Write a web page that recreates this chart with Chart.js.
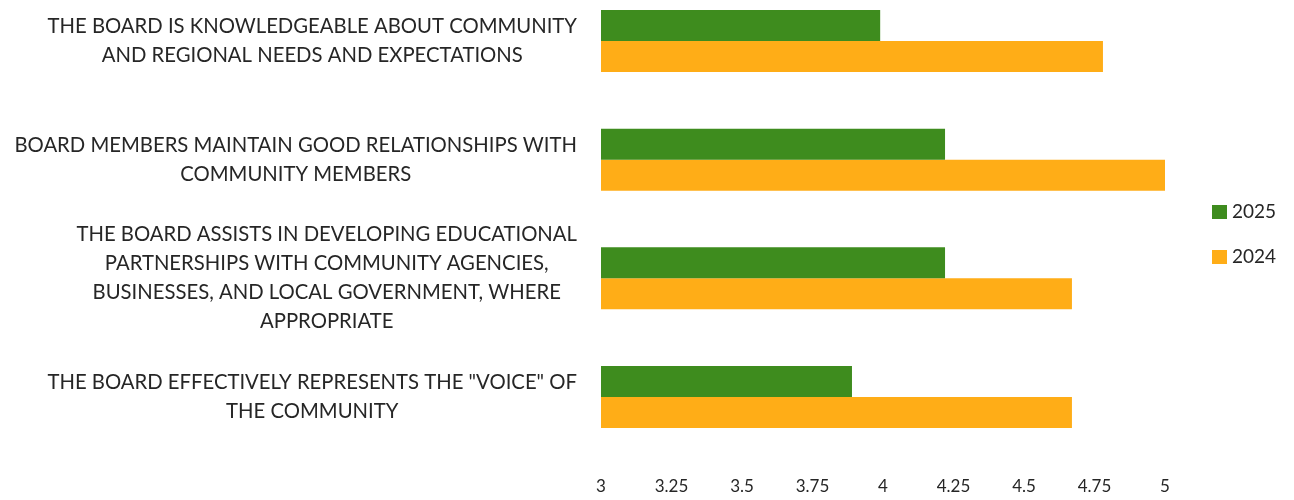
<!DOCTYPE html>
<html>
<head>
<meta charset="utf-8">
<script src="https://cdn.jsdelivr.net/npm/chart.js@4.4.0/dist/chart.umd.min.js"></script>
<style>
  html, body { margin: 0; padding: 0; background: #fff; }
  #wrap { width: 1294px; height: 500px; }
</style>
</head>
<body>
<div id="wrap"><canvas id="chart" width="1294" height="500"></canvas></div>
<script>
// category labels, one array of lines per question
const categories = [
    ['THE BOARD IS KNOWLEDGEABLE ABOUT COMMUNITY', 'AND REGIONAL NEEDS AND EXPECTATIONS'],
    ['BOARD MEMBERS MAINTAIN GOOD RELATIONSHIPS WITH', 'COMMUNITY MEMBERS'],
    ['THE BOARD ASSISTS IN DEVELOPING EDUCATIONAL', 'PARTNERSHIPS WITH COMMUNITY AGENCIES,', 'BUSINESSES, AND LOCAL GOVERNMENT, WHERE', 'APPROPRIATE'],
    ['THE BOARD EFFECTIVELY REPRESENTS THE "VOICE" OF', 'THE COMMUNITY']
];
const seriesNames = ['2025', '2024'];
const values2025 = [3.99, 4.22, 4.22, 3.89];
const values2024 = [4.78, 5.0, 4.67, 4.67];
const xTicks = ['3', '3.25', '3.5', '3.75', '4', '4.25', '4.5', '4.75', '5'];

const GREEN = '#3e8c1e';
const ORANGE = '#ffad17';
const TEXT = '#262626';

// multi-line labels, right-aligned as a block, each line centred inside it
const categoryLabels = {
    id: 'categoryLabels',
    afterDraw(chart) {
        const { ctx, chartArea, scales: { y } } = chart;
        ctx.save();
        ctx.font = '20.3px Lato';
        ctx.fillStyle = TEXT;
        ctx.textAlign = 'center';
        ctx.textBaseline = 'middle';
        const right = chartArea.left - 24;
        const lineH = 29;
        categories.forEach((lines, i) => {
            const yc = y.getPixelForValue(i);
            const w = Math.max(...lines.map(l => ctx.measureText(l).width));
            const cx = right - w / 2;
            lines.forEach((l, k) => {
                ctx.fillText(l, cx, yc + (k - (lines.length - 1) / 2) * lineH);
            });
        });
        ctx.restore();
    }
};

// legend on the right, stacked
const sideLegend = {
    id: 'sideLegend',
    afterDraw(chart) {
        const { ctx, chartArea } = chart;
        ctx.save();
        ctx.font = '19px Lato';
        ctx.textBaseline = 'middle';
        ctx.textAlign = 'left';
        const x = chartArea.right + 47;
        let yy = chartArea.top + 171;
        chart.data.datasets.forEach(ds => {
            ctx.fillStyle = ds.backgroundColor;
            ctx.fillRect(x, yy - 7, 15, 14);
            ctx.fillStyle = TEXT;
            ctx.fillText(ds.label, x + 20, yy);
            yy += 45;
        });
        ctx.restore();
    }
};

new Chart(document.getElementById('chart'), {
    type: 'bar',
    data: {
        labels: categories,
        datasets: [
            { label: seriesNames[0], data: values2025, backgroundColor: GREEN, base: 3, clip: false },
            { label: seriesNames[1], data: values2024, backgroundColor: ORANGE, base: 3, clip: false }
        ]
    },
    options: {
        indexAxis: 'y',
        responsive: false,
        animation: false,
        categoryPercentage: 0.522,
        barPercentage: 1,
        layout: { padding: { top: 41, left: 601, right: 129, bottom: 4 } },
        plugins: {
            legend: { display: false },
            tooltip: { enabled: false }
        },
        scales: {
            x: {
                min: 3,
                max: 5,
                grid: { display: false, drawTicks: false },
                border: { display: false },
                afterFit: (scale) => { scale.height = 99; },
                ticks: {
                    stepSize: 0.25,
                    padding: 79,
                    maxRotation: 0,
                    color: TEXT,
                    font: { family: 'Lato', size: 17 },
                    callback: (v, i) => xTicks[i]
                }
            },
            y: {
                display: false,
                offset: false
            }
        }
    },
    plugins: [categoryLabels, sideLegend]
});
</script>
</body>
</html>
